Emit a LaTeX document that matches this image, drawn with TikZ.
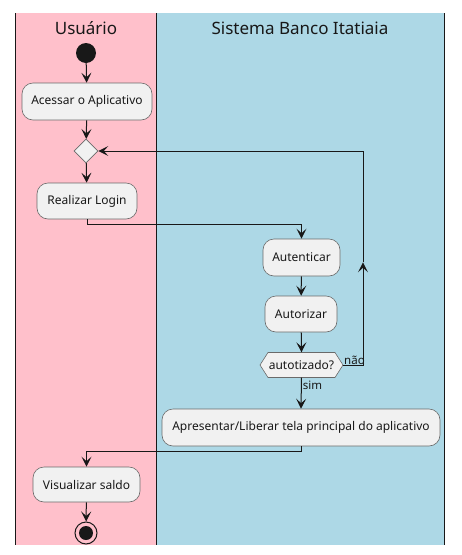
\documentclass[tikz,border=0pt]{standalone}
\usepackage{fontspec}
\setmainfont{Noto Sans}
\usetikzlibrary{arrows.meta,calc,shapes.geometric}
\definecolor{actfill}{HTML}{F1F1F1}
\definecolor{actborder}{HTML}{6A6A6A}
\definecolor{lanepink}{HTML}{FFC0CB}
\definecolor{laneblue}{HTML}{ADD8E6}
\definecolor{ink}{HTML}{181818}
\begin{document}
\begin{tikzpicture}[x=1pt,y=-1pt,
  act/.style={draw=actborder, line width=0.6pt, fill=actfill, rounded corners=11pt, font=\fontsize{12}{14}\selectfont, inner sep=0pt, text=ink},
  flow/.style={draw=ink, line width=1pt, -{Stealth[length=10pt,width=10pt,inset=4.5pt]}},
  lane/.style={draw=ink, line width=1pt},
  title/.style={font=\fontsize{17}{20}\selectfont, text=ink},
  lbl/.style={font=\fontsize{11.5}{13}\selectfont, text=ink, inner sep=1pt},
]
\useasboundingbox (0,0) rectangle (462,555);
% lanes
\fill[lanepink] (15,13) rectangle (156,545);
\fill[laneblue] (156,13) rectangle (444,545);
\draw[lane] (15,13) -- (15,545);
\draw[lane] (156,13) -- (156,545);
\draw[lane] (444,13) -- (444,545);
\node[title] (t1) at (86,28) {Usuário};
\node[title] (t2) at (300,28) {Sistema Banco Itatiaia};
% nodes
\node[circle, fill=ink, minimum size=20pt, inner sep=0pt] (start) at (86,53) {};
\node[act, minimum width=130pt, minimum height=37pt] (a1) at (87,101.5) {Acessar o Aplicativo};
\node[diamond, aspect=1, draw=actborder, line width=0.6pt, fill=actfill, minimum width=24pt, minimum height=24pt, inner sep=0pt] (m) at (86,151) {};
\node[act, minimum width=100pt, minimum height=36pt] (a2) at (87,201) {Realizar Login};
\node[act, minimum width=77pt, minimum height=37pt] (a3) at (301.5,257.5) {Autenticar};
\node[act, minimum width=72pt, minimum height=36pt] (a4) at (301,314) {Autorizar};
\coordinate (decc) at (301.5,365);
\draw[draw=actborder, line width=0.6pt, fill=actfill] ($(decc)+(-41.5,0)$) coordinate (decl) -- ++(8,-12.5) -- ++(67,0) -- ++(8,12.5) coordinate (decr) -- ++(-8,12.5) -- ++(-67,0) -- cycle;
\node[font=\fontsize{12}{14}\selectfont, text=ink, inner sep=0pt, minimum width=83pt, minimum height=25pt] (dec) at (decc) {autotizado?};
\node[act, minimum width=278pt, minimum height=37pt] (a5) at (301,427.5) {Apresentar/Liberar tela principal do aplicativo};
\node[act, minimum width=107pt, minimum height=35pt] (a6) at (86.5,484.5) {Visualizar saldo};
\node[circle, draw=ink, line width=1pt, fill=none, minimum size=22pt, inner sep=0pt] (end) at (86,533) {};
\node[circle, fill=ink, minimum size=14pt, inner sep=0pt] (endin) at (end.center) {};
% connectors
\draw[flow] (start) -- (a1);
\draw[flow] (a1) -- (m);
\draw[flow] (m) -- (a2);
\draw[flow] (a2.south) -- ++(0,5) -| (a3.north);
\draw[flow] (a3) -- (a4);
\draw[flow] (a4) -- (dec.north);
\draw[flow] (dec.south) -- (a5.north) node[lbl, right, pos=0.25] {sim};
\draw[flow] (a5.south) -- ++(0,5) -| (a6.north);
\draw[flow] (a6) -- (end);
\coordinate (lc1) at (363,365);
\coordinate (lc2) at (363,151);
\draw[flow] (decr) -- (lc1) -- ($(lc1)!0.48!(lc2)$);
\draw[flow] ($(lc1)!0.48!(lc2)$) -- (lc2) -- (m.east);
\node[lbl, anchor=south west] (nao) at ($(decr)+(0,1)$) {não};
\end{tikzpicture}
\end{document}
